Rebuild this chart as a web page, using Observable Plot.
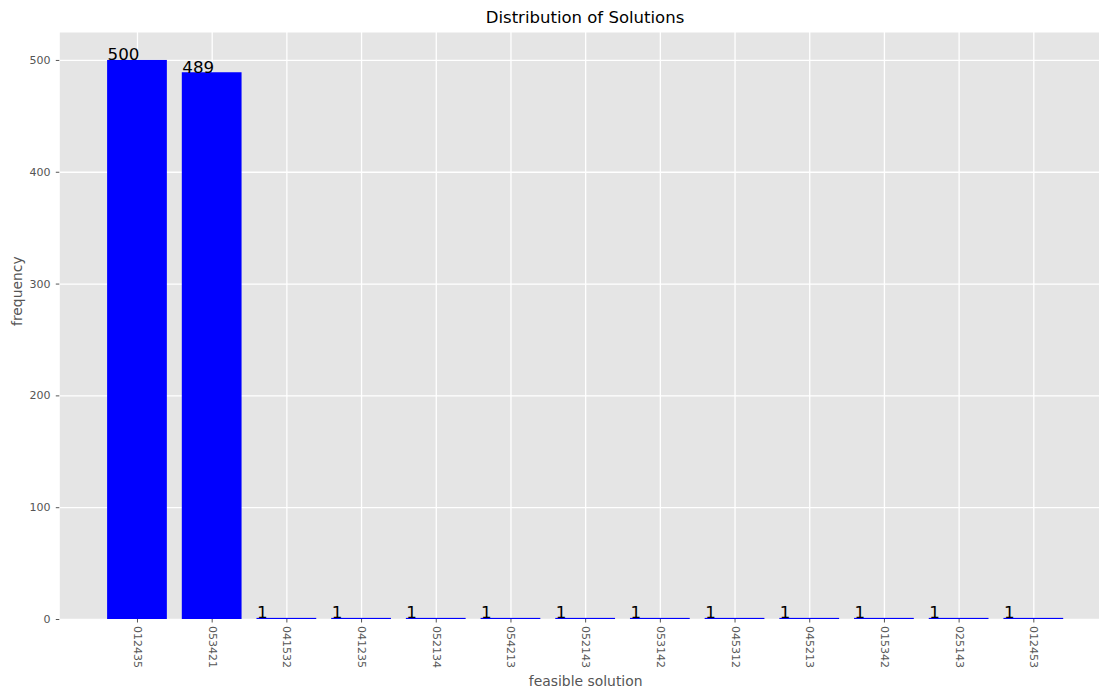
<!DOCTYPE html>
<html>
<head>
<meta charset="utf-8">
<script src="https://cdn.jsdelivr.net/npm/d3@7"></script>
<script src="https://cdn.jsdelivr.net/npm/@observablehq/plot@0.6"></script>
<style>
  html, body { margin: 0; padding: 0; background: #fff; overflow: hidden; }
  #title {
    height: 32px; width: 1099px; box-sizing: border-box;
    padding-left: 71px; text-align: center;
    font-family: "DejaVu Sans", sans-serif; font-size: 16.5px; color: #000;
    line-height: 16px; padding-top: 10px;
  }
</style>
</head>
<body>
<div id="title">Distribution of Solutions</div>
<div id="chart"></div>
<script>
const solutions = ["012435", "053421", "041532", "041235", "052134", "054213", "052143",
                   "053142", "045312", "045213", "015342", "025143", "012453"];
const frequencies = [500, 489, 1, 1, 1, 1, 1, 1, 1, 1, 1, 1, 1];
const yTicks = [0, 100, 200, 300, 400, 500];
const xLabel = "feasible solution";
const yLabel = "frequency";

const data = solutions.map((s, i) => ({solution: s, frequency: frequencies[i]}));

const W = 1099, H = 659;
const mL = 59.3, mB = 72;
const font = "DejaVu Sans, sans-serif";

const chart = Plot.plot({
  width: W,
  height: H,
  marginTop: 0,
  marginLeft: mL,
  marginRight: 0,
  marginBottom: mB,
  style: {fontFamily: font, background: "#fff", overflow: "hidden"},
  x: {type: "band", domain: solutions, range: [59.3, 1111], paddingInner: 0.2, paddingOuter: 0.64, align: 0.5, round: false},
  y: {domain: [0, 525]},
  marks: [
    Plot.frame({fill: "#E5E5E5", stroke: null}),
    Plot.gridY(yTicks, {stroke: "#fff", strokeOpacity: 1, strokeWidth: 1.3}),
    Plot.gridX({stroke: "#fff", strokeOpacity: 1, strokeWidth: 1.3}),
    Plot.barY(data, {x: "solution", y: "frequency", fill: "#0000ff"}),
    Plot.text(data, {x: "solution", y: "frequency", text: d => String(d.frequency),
      dx: -29.9, textAnchor: "start", lineAnchor: "bottom", fontSize: 16.7, fill: "#000"}),
    Plot.axisY(yTicks, {tickSize: 3.5, tickPadding: 5.8, fontSize: 11, fill: "#555", stroke: "#555", label: null}),
    Plot.axisX({tickRotate: 90, tickSize: 3.5, tickPadding: 3, fontSize: 11, fill: "#555", stroke: "#555", label: null}),
    Plot.text([yLabel], {frameAnchor: "left", rotate: -90, dx: -42, lineAnchor: "middle",
      fontSize: 13.9, fill: "#555"}),
    Plot.text([xLabel], {frameAnchor: "bottom", dx: 6, dy: 62.5, lineAnchor: "middle",
      fontSize: 13.9, fill: "#555"})
  ]
});
document.getElementById("chart").appendChild(chart);
</script>
</body>
</html>
